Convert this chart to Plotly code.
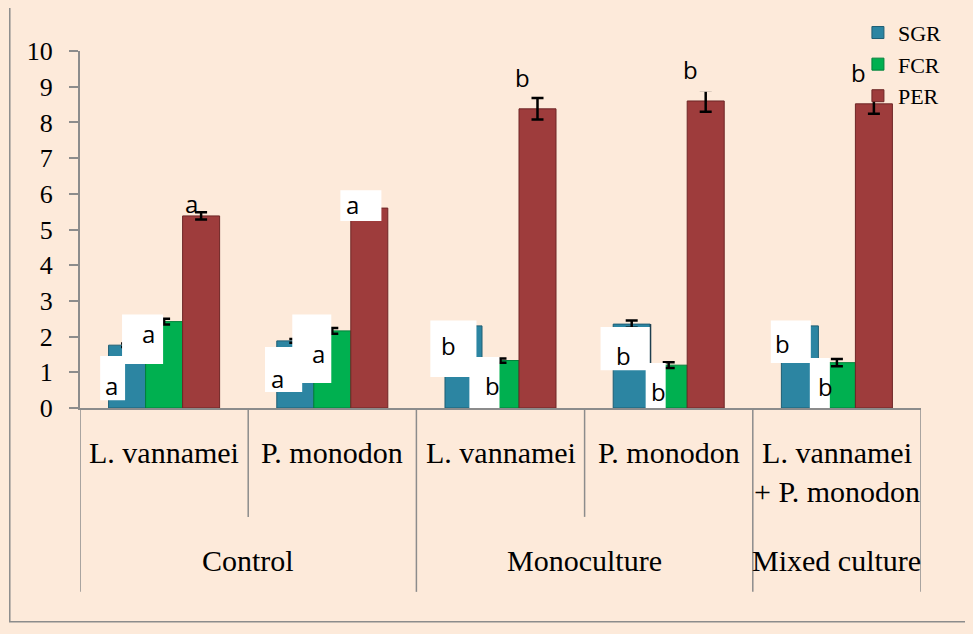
import plotly.graph_objects as go

# ---------------- data ----------------
groups = ["Control", "Control", "Monoculture", "Monoculture", "Mixed culture"]
species = ["L. vannamei", "P. monodon", "L. vannamei", "P. monodon", "L. vannamei<br>+ P. monodon"]
group_names = ["Control", "Monoculture", "Mixed culture"]
group_spans = [(0, 1), (2, 3), (4, 4)]

sgr = [1.76, 1.88, 2.30, 2.35, 2.30]
sgr_err = [0.05, 0.05, 0.05, 0.10, 0.05]
fcr = [2.42, 2.16, 1.33, 1.20, 1.27]
fcr_err = [0.08, 0.08, 0.06, 0.08, 0.10]
per = [5.38, 5.60, 8.38, 8.60, 8.52]
per_err = [0.10, 0.10, 0.30, 0.30, 0.28]

sgr_letters = ["a", "a", "b", "b", "b"]
fcr_letters = ["a", "a", "b", "b", "b"]
per_letters = ["a", "a", "b", "b", "b"]
y_ticks = list(range(0, 11))

# ---------------- styling ----------------
BG = "#FDEADA"
AXC = "#8C8C8C"
SERIF = "Liberation Serif, Times New Roman, serif"
SANS = "Open Sans, Liberation Sans, sans-serif"

cats = [f"{g}|{s}" for g, s in zip(groups, species)]

fig = go.Figure()
series = [
    ("SGR", sgr, sgr_err, "#2C85A2", "#1E5E74"),
    ("FCR", fcr, fcr_err, "#00B050", "#00803A"),
    ("PER", per, per_err, "#9E3C3C", "#6E2626"),
]
for name, vals, errs, col, lc in series:
    fig.add_trace(go.Bar(
        name=name, x=cats, y=vals,
        marker=dict(color=col, line=dict(color=lc, width=1)),
        error_y=dict(type="data", array=errs, visible=True, color="black",
                     thickness=2.5, width=6),
    ))

shapes = []
annotations = []

# white boxes behind the significance letters (x0, x1, y0, y1) in category-index / value units
box_w = "#FFFFFF"
boxes = [
    (-0.38, -0.232, 0.22, 1.46), (-0.25, -0.006, 1.23, 2.62),
    (0.60, 0.821, 0.45, 1.71), (0.762, 0.994, 0.70, 2.62),
    (1.048, 1.292, 5.24, 6.10),
    (1.583, 1.857, 0.87, 2.45), (1.815, 1.994, -0.06, 1.43),
    (2.595, 2.893, 1.06, 2.27), (2.863, 2.982, -0.06, 1.26),
    (3.607, 3.845, 1.26, 2.45), (3.839, 3.958, -0.06, 1.40),
]
for x0, x1, y0, y1 in boxes:
    shapes.append(dict(type="rect", xref="x", yref="y", x0=x0, x1=x1, y0=y0, y1=y1,
                       fillcolor=box_w, line=dict(width=0), layer="above"))
# remaining bar outline at the right edge of one box
shapes.append(dict(type="line", xref="x", yref="y", x0=2.892, x1=2.892, y0=1.26, y1=2.35,
                   line=dict(color="#1E3F4F", width=1.5), layer="above"))
# background-coloured boxes hiding error-bar caps under the PER letters
for x0, x1, y0, y1 in [(3.10, 3.36, 8.86, 9.8), (4.10, 4.36, 8.76, 9.8)]:
    shapes.append(dict(type="rect", xref="x", yref="y", x0=x0, x1=x1, y0=y0, y1=y1,
                       fillcolor=BG, line=dict(width=0), layer="above"))

# letters
sgr_pos = [(-0.31, 0.64), (0.673, 0.84), (1.690, 1.76), (2.732, 1.48), (3.679, 1.82)]
fcr_pos = [(-0.095, 2.10), (0.917, 1.54), (1.952, 0.64), (2.94, 0.45), (3.935, 0.59)]
per_pos = [(0.161, 5.74), (1.119, 5.69), (2.131, 9.27), (3.131, 9.47), (4.131, 9.41)]
for letters, pos in [(sgr_letters, sgr_pos), (fcr_letters, fcr_pos), (per_letters, per_pos)]:
    for t, (x, y) in zip(letters, pos):
        annotations.append(dict(x=x, y=y, xref="x", yref="y", text=t, showarrow=False,
                                font=dict(family=SANS, size=24, color="black")))

# category dividers (x-axis hierarchy)
inner = [0.5, 2.5]
outer = [-0.5, 1.5, 3.5, 4.5]
for xv in inner:
    shapes.append(dict(type="line", xref="x", yref="paper", x0=xv, x1=xv, y0=0, y1=-0.305,
                       line=dict(color=AXC, width=1.5)))
for xv in outer:
    shapes.append(dict(type="line", xref="x", yref="paper", x0=xv, x1=xv, y0=0, y1=-0.515,
                       line=dict(color=AXC, width=1.5)))

for i, s in enumerate(species):
    annotations.append(dict(x=i, y=-0.072, xref="x", yref="paper", text=s, showarrow=False,
                            yanchor="top", font=dict(family=SERIF, size=30, color="black")))
for g, (a, b) in zip(group_names, group_spans):
    annotations.append(dict(x=(a + b) / 2, y=-0.426, xref="x", yref="paper", text=g,
                            showarrow=False, yanchor="middle",
                            font=dict(family=SERIF, size=30, color="black")))

# outer chart border (right/top edges fall outside the visible page)
shapes.append(dict(type="rect", xref="paper", yref="paper", x0=-0.0835, x1=1.07,
                   y0=-0.599, y1=1.16, line=dict(color=AXC, width=1.5), layer="below"))

# the page body adds an 8px offset, so the figure is 8px smaller on each axis
fig.update_layout(
    width=965, height=626,
    margin=dict(l=72, r=52, t=43, b=226, autoexpand=False),
    paper_bgcolor=BG, plot_bgcolor=BG,
    barmode="group", bargap=0.34, bargroupgap=0,
    showlegend=True,
    legend=dict(x=0.925, y=1.11, xanchor="left", yanchor="top",
                bgcolor="rgba(0,0,0,0)", font=dict(family=SERIF, size=22, color="black"),
                itemwidth=30, tracegroupgap=0),
    shapes=shapes, annotations=annotations,
)
fig.update_xaxes(type="category", range=[-0.5, 4.5], showticklabels=False, ticks="",
                 showline=True, linecolor=AXC, linewidth=2, showgrid=False, zeroline=False)
fig.update_yaxes(range=[0, 10], tickvals=y_ticks, ticks="outside", ticklen=9,
                 tickcolor=AXC, tickwidth=1.5, showline=True, linecolor=AXC, linewidth=2,
                 showgrid=False, zeroline=False, ticklabelstandoff=11,
                 tickfont=dict(family=SERIF, size=26, color="black"))

fig.write_html("out.html", post_script=f"document.body.style.background='{BG}';")
